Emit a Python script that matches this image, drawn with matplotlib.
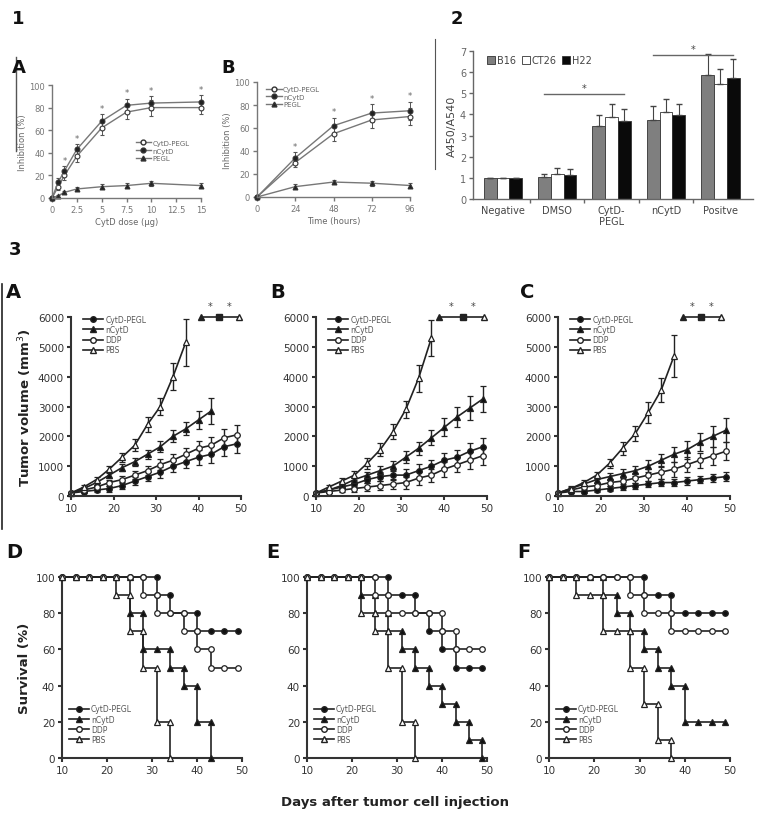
import numpy as np
import matplotlib
matplotlib.use("Agg")
import matplotlib.pyplot as plt
from matplotlib.lines import Line2D

# ---- panel 1: inhibition curves ----
DOSE = [0, 0.625, 1.25, 2.5, 5, 7.5, 10, 15]
DOSE_CYTD_PEGL = [0, 10, 20, 37, 62, 76, 80, 80]
DOSE_CYTD_PEGL_ERR = [0, 3, 4, 5, 6, 6, 7, 6]
DOSE_NCYTD = [0, 14, 24, 43, 68, 82, 84, 85]
DOSE_NCYTD_ERR = [0, 4, 4, 5, 6, 6, 6, 6]
DOSE_PEGL = [0, 2, 5, 8, 10, 11, 13, 11]
DOSE_PEGL_ERR = [0, 1, 1, 2, 2, 2, 2, 2]

HOURS = [0, 24, 48, 72, 96]
TIME_CYTD_PEGL = [0, 30, 55, 67, 70]
TIME_CYTD_PEGL_ERR = [0, 4, 6, 7, 7]
TIME_NCYTD = [0, 34, 62, 73, 75]
TIME_NCYTD_ERR = [0, 5, 7, 8, 8]
TIME_PEGL = [0, 9, 13, 12, 10]
TIME_PEGL_ERR = [0, 2, 2, 2, 2]

# ---- panel 2: bar chart ----
GROUPS = ["Negative", "DMSO", "CytD-\nPEGL", "nCytD", "Positve"]
B16 = [1, 1.05, 3.45, 3.75, 5.85]
B16_ERR = [0, 0.15, 0.5, 0.65, 1.0]
CT26 = [1, 1.2, 3.9, 4.1, 5.45]
CT26_ERR = [0, 0.25, 0.6, 0.65, 0.7]
H22 = [1, 1.15, 3.7, 3.95, 5.7]
H22_ERR = [0, 0.25, 0.55, 0.55, 0.9]

# ---- panel 3: tumour volume ----
DAYS = [10, 13, 16, 19, 22, 25, 28, 31, 34, 37, 40, 43, 46, 49]
SERIES = ["CytD-PEGL", "nCytD", "DDP", "PBS"]

VOL_A = {
    "CytD-PEGL": [100, 150, 200, 250, 350, 500, 650, 800, 1000, 1150, 1300, 1400, 1650, 1750],
    "nCytD": [100, 250, 450, 700, 950, 1150, 1400, 1650, 2000, 2250, 2550, 2850],
    "DDP": [100, 200, 300, 450, 550, 700, 850, 1050, 1200, 1400, 1600, 1700, 1950, 2050],
    "PBS": [100, 300, 550, 900, 1300, 1700, 2400, 3000, 4000, 5150],
}
ERR_A = {
    "CytD-PEGL": [50, 60, 80, 100, 120, 130, 150, 180, 200, 220, 250, 280, 300, 300],
    "nCytD": [50, 60, 80, 100, 120, 130, 150, 180, 200, 220, 300, 430],
    "DDP": [50, 60, 80, 100, 120, 130, 150, 180, 200, 220, 250, 280, 300, 320],
    "PBS": [50, 80, 100, 120, 150, 200, 250, 300, 450, 780],
}
VOL_B = {
    "CytD-PEGL": [100, 200, 300, 400, 550, 650, 700, 700, 850, 1000, 1200, 1300, 1500, 1650],
    "nCytD": [100, 200, 350, 550, 700, 850, 1000, 1300, 1600, 1950, 2300, 2650, 2950, 3250],
    "DDP": [100, 150, 200, 250, 300, 350, 400, 450, 600, 700, 900, 1050, 1200, 1350],
    "PBS": [100, 300, 500, 700, 1100, 1550, 2150, 2900, 3950, 5300],
}
ERR_B = {
    "CytD-PEGL": [50, 60, 80, 100, 120, 150, 170, 200, 220, 220, 250, 250, 280, 300],
    "nCytD": [50, 60, 80, 100, 120, 150, 170, 200, 220, 250, 300, 350, 400, 450],
    "DDP": [50, 60, 80, 100, 120, 150, 170, 200, 220, 220, 250, 250, 280, 300],
    "PBS": [50, 80, 100, 150, 180, 220, 250, 300, 450, 600],
}
VOL_C = {
    "CytD-PEGL": [100, 150, 150, 200, 250, 300, 350, 400, 450, 450, 500, 550, 600, 650],
    "nCytD": [100, 250, 400, 550, 650, 750, 850, 1000, 1200, 1400, 1550, 1800, 2000, 2200],
    "DDP": [100, 200, 300, 350, 450, 500, 600, 700, 800, 900, 1050, 1200, 1350, 1500],
    "PBS": [100, 250, 450, 700, 1100, 1600, 2100, 2800, 3550, 4700],
}
ERR_C = {
    "CytD-PEGL": [50, 50, 60, 70, 80, 90, 100, 100, 110, 120, 130, 130, 140, 150],
    "nCytD": [50, 60, 80, 100, 120, 150, 170, 200, 220, 250, 300, 300, 350, 400],
    "DDP": [50, 60, 80, 100, 120, 150, 170, 200, 220, 250, 250, 250, 300, 300],
    "PBS": [50, 80, 100, 120, 150, 220, 250, 350, 400, 700],
}

# ---- panel 3: survival (%) per day ----
SURV_D = {
    "CytD-PEGL": [100, 100, 100, 100, 100, 100, 100, 90, 80, 80, 70, 70, 70, 70],
    "nCytD": [100, 100, 100, 100, 100, 80, 60, 60, 50, 40, 20, 0],
    "DDP": [100, 100, 100, 100, 100, 100, 90, 80, 80, 70, 60, 50, 50, 50],
    "PBS": [100, 100, 100, 100, 90, 70, 50, 20, 0],
}
SURV_E = {
    "CytD-PEGL": [100, 100, 100, 100, 100, 100, 90, 90, 80, 70, 60, 50, 50, 50],
    "nCytD": [100, 100, 100, 100, 90, 80, 70, 60, 50, 40, 30, 20, 10, 0],
    "DDP": [100, 100, 100, 100, 100, 90, 80, 80, 80, 80, 70, 60, 60, 60],
    "PBS": [100, 100, 100, 100, 80, 70, 50, 20, 0],
}
SURV_F = {
    "CytD-PEGL": [100, 100, 100, 100, 100, 100, 100, 90, 90, 80, 80, 80, 80, 80],
    "nCytD": [100, 100, 100, 100, 90, 80, 70, 60, 50, 40, 20, 20, 20, 20],
    "DDP": [100, 100, 100, 100, 100, 100, 90, 80, 80, 70, 70, 70, 70, 70],
    "PBS": [100, 100, 90, 90, 70, 70, 50, 30, 10, 0],
}

MARK = {
    "CytD-PEGL": ("o", "#111111"),
    "nCytD": ("^", "#111111"),
    "DDP": ("o", "white"),
    "PBS": ("^", "white"),
}

W, H = 765, 828
fig = plt.figure(figsize=(W / 100, H / 100), dpi=100)
fig.patch.set_facecolor("white")


def add_ax(l, r, t, b):
    return fig.add_axes([l / W, 1 - b / H, (r - l) / W, (b - t) / H])


def style(ax, color, lw, size):
    for s in ("top", "right"):
        ax.spines[s].set_visible(False)
    for s in ("left", "bottom"):
        ax.spines[s].set_color(color)
        ax.spines[s].set_linewidth(lw)
    ax.tick_params(colors=color, length=3, width=lw, labelsize=size, pad=2)
    ax.set_facecolor("none")


def label(x, y, s, size=14):
    fig.text(x / W, 1 - y / H, s, fontsize=size, fontweight="bold",
             ha="center", va="center", color="#111111")


def vline(x, y0, y1, color="#444444", lw=1.0):
    fig.add_artist(Line2D([x / W, x / W], [1 - y0 / H, 1 - y1 / H],
                          color=color, lw=lw))


# ================= panel 1A =================
g1 = "#777777"
t1 = "#666666"
ax = add_ax(52, 201, 86, 199)
style(ax, g1, 1.0, 6)
curves = [
    (DOSE_CYTD_PEGL, DOSE_CYTD_PEGL_ERR, "o", "white", "CytD-PEGL"),
    (DOSE_NCYTD, DOSE_NCYTD_ERR, "o", "#222222", "nCytD"),
    (DOSE_PEGL, DOSE_PEGL_ERR, "^", "#222222", "PEGL"),
]
for y, e, m, fc, name in curves:
    ax.errorbar(DOSE, y, yerr=e, color=g1, lw=1.0, marker=m, ms=3.5,
                mfc=fc, mec="#333333", mew=0.8, ecolor="#555555",
                elinewidth=0.7, capsize=1.5, clip_on=False)
for x, y, e in zip(DOSE[2:], DOSE_NCYTD[2:], DOSE_NCYTD_ERR[2:]):
    ax.text(x, y + e + 1, "*", ha="center", va="bottom", fontsize=6, color=t1)
ax.set_xlim(0, 15)
ax.set_ylim(0, 100)
ax.set_xticks([0, 2.5, 5, 7.5, 10, 12.5, 15])
ax.set_xticklabels(["0", "2.5", "5", "7.5", "10", "12.5", "15"])
ax.set_yticks(range(0, 101, 20))
ax.set_xlabel("CytD dose (\u03bcg)", fontsize=6, color=t1, labelpad=2)
ax.set_ylabel("Inhibition (%)", fontsize=6, color=t1, labelpad=2)
h = [Line2D([], [], color=g1, lw=1, marker=m, ms=3.5, mfc=fc, mec="#333333")
     for _, _, m, fc, _ in curves]
ax.legend(h, [c[4] for c in curves], loc="center left",
          bbox_to_anchor=(0.52, 0.42), fontsize=5, frameon=False,
          handlelength=2.2, labelspacing=0.25, handletextpad=0.2,
          labelcolor=t1)

# ================= panel 1B =================
ax = add_ax(257, 410, 83, 198)
style(ax, g1, 1.0, 6)
curves = [
    (TIME_CYTD_PEGL, TIME_CYTD_PEGL_ERR, "o", "white", "CytD-PEGL"),
    (TIME_NCYTD, TIME_NCYTD_ERR, "o", "#222222", "nCytD"),
    (TIME_PEGL, TIME_PEGL_ERR, "^", "#222222", "PEGL"),
]
for y, e, m, fc, name in curves:
    ax.errorbar(HOURS, y, yerr=e, color=g1, lw=1.0, marker=m, ms=3.5,
                mfc=fc, mec="#333333", mew=0.8, ecolor="#555555",
                elinewidth=0.7, capsize=1.5, clip_on=False)
for x, y, e in zip(HOURS[1:], TIME_NCYTD[1:], TIME_NCYTD_ERR[1:]):
    ax.text(x, y + e + 1, "*", ha="center", va="bottom", fontsize=6, color=t1)
ax.set_xlim(0, 96)
ax.set_ylim(0, 100)
ax.set_xticks(HOURS)
ax.set_yticks(range(0, 101, 20))
ax.set_xlabel("Time (hours)", fontsize=6, color=t1, labelpad=2)
ax.set_ylabel("Inhibition (%)", fontsize=6, color=t1, labelpad=2)
h = [Line2D([], [], color=g1, lw=1, marker=m, ms=3.5, mfc=fc, mec="#333333")
     for _, _, m, fc, _ in curves]
ax.legend(h, [c[4] for c in curves], loc="upper left",
          bbox_to_anchor=(0.02, 1.02), fontsize=5, frameon=False,
          handlelength=2.2, labelspacing=0.25, handletextpad=0.2,
          labelcolor=t1)

label(19, 68, "A", 13)
label(228, 68, "B", 13)
label(18, 19, "1", 13)
vline(16, 58, 152, "#555555", 1.0)

# ================= panel 2 =================
ax = add_ax(473, 753, 52, 200)
style(ax, "#666666", 1.0, 7)
x = np.arange(len(GROUPS))
bw = 0.235
bars = [(B16, B16_ERR, "#7f7f7f", "B16"), (CT26, CT26_ERR, "white", "CT26"),
        (H22, H22_ERR, "#0a0a0a", "H22")]
for k, (v, e, c, name) in enumerate(bars):
    ax.bar(x + (k - 1) * bw, v, bw, color=c, edgecolor="#333333", lw=0.6,
           label=name)
    ax.errorbar(x + (k - 1) * bw, v, yerr=[np.zeros(len(e)), e], fmt="none",
                ecolor="#444444", elinewidth=0.8, capsize=2.5)
ax.plot([1 - bw, 2 + bw], [4.95, 4.95], color="#666666", lw=1)
ax.text(1.5, 5.0, "*", ha="center", va="bottom", fontsize=7, color="#444444")
ax.plot([3 - bw, 4 + bw], [6.8, 6.8], color="#666666", lw=1, clip_on=False)
ax.text(3.5, 6.85, "*", ha="center", va="bottom", fontsize=7, color="#444444")
ax.set_xlim(-0.55, 4.6)
ax.set_ylim(0, 7)
ax.set_yticks(range(8))
ax.set_xticks(x)
ax.set_xticklabels(GROUPS, color="#444444")
ax.tick_params(axis="x", length=0, pad=4)
ax.set_xticks(x[:-1] + 0.5, minor=True)
ax.tick_params(axis="x", which="minor", length=3, width=1, color="#666666")
ax.set_ylabel("A450/A540", fontsize=8, color="#444444", labelpad=2)
ax.legend(loc="upper left", bbox_to_anchor=(0.02, 1.03), ncol=3, fontsize=7,
          frameon=False, handlelength=0.8, handleheight=0.8,
          handletextpad=0.2, columnspacing=0.6, labelcolor="#444444")
label(457, 19, "2", 13)
vline(435, 40, 170, "#555555", 0.8)

# ================= panel 3: tumour volume =================
label(15, 250, "3", 13)
vline(2, 285, 530, "#222222", 1.2)
lc = "#222222"
vol_boxes = [(VOL_A, ERR_A, (71, 241), "A", 13, (40.5, 44.8, 49.6)),
             (VOL_B, ERR_B, (316, 487), "B", 278, (38.8, 44.3, 49.3)),
             (VOL_C, ERR_C, (558, 730), "C", 527, (39.0, 43.3, 48.0))]
for vol, err, (l, r), letter, lx, sig in vol_boxes:
    ax = add_ax(l, r, 318, 497)
    style(ax, "#333333", 1.5, 7.5)
    for name in SERIES:
        m, fc = MARK[name]
        n = len(vol[name])
        ax.errorbar(DAYS[:n], vol[name], yerr=err[name], color=lc, lw=1.2,
                    marker=m, ms=4, mfc=fc, mec=lc, mew=0.9, ecolor=lc,
                    elinewidth=1.0, capsize=2.5, capthick=1.0, clip_on=False)
    # significance key at the top
    ax.plot(sig, [6000] * 3, color=lc, lw=1.2, clip_on=False)
    ax.plot(sig[0], 6000, "^", ms=5, color=lc, clip_on=False)
    ax.plot(sig[1], 6000, "s", ms=5, color=lc, clip_on=False)
    ax.plot(sig[2], 6000, "^", ms=5, mfc="white", mec=lc, clip_on=False)
    for sx in ((sig[0] + sig[1]) / 2, (sig[1] + sig[2]) / 2):
        ax.text(sx, 6200, "*", ha="center", va="bottom", fontsize=7, color="#444444")
    ax.set_xlim(10, 50)
    ax.set_ylim(0, 6000)
    ax.set_xticks(range(10, 51, 10))
    ax.set_yticks(range(0, 6001, 1000))
    h = [Line2D([], [], color=lc, lw=1.2, marker=MARK[s][0], ms=4,
                mfc=MARK[s][1], mec=lc) for s in SERIES]
    ax.legend(h, SERIES, loc="upper left", bbox_to_anchor=(0.03, 1.05),
              fontsize=5.5, frameon=False, handlelength=2.6,
              labelspacing=0.15, handletextpad=0.3, labelcolor="#555555")
    label(lx, 292, letter, 14)
    if letter == "A":
        ax.set_ylabel("Tumor volume (mm$^3$)", fontsize=9.5, fontweight="bold",
                      color="#222222", labelpad=3)

# ================= panel 3: survival =================
surv_boxes = [(SURV_D, (62, 242), "D", 14), (SURV_E, (307, 487), "E", 273),
              (SURV_F, (549, 730), "F", 524)]
for surv, (l, r), letter, lx in surv_boxes:
    ax = add_ax(l, r, 578, 759)
    style(ax, "#333333", 1.5, 7.5)
    for name in SERIES:
        m, fc = MARK[name]
        v = surv[name]
        d = DAYS[:len(v)]
        ax.plot(d, v, drawstyle="steps-post", color=lc, lw=1.2, clip_on=False)
        mx, my = list(d), list(v)
        for i in range(1, len(v)):
            if v[i] != v[i - 1]:
                mx.append(d[i])
                my.append(v[i - 1])
        ax.plot(mx, my, ls="none", marker=m, ms=4, mfc=fc, mec=lc, mew=0.9,
                clip_on=False, zorder=3)
    ax.set_xlim(10, 50)
    ax.set_ylim(0, 100)
    ax.set_xticks(range(10, 51, 10))
    ax.set_yticks(range(0, 101, 20))
    h = [Line2D([], [], color=lc, lw=1.2, marker=MARK[s][0], ms=4,
                mfc=MARK[s][1], mec=lc) for s in SERIES]
    ax.legend(h, SERIES, loc="lower left", bbox_to_anchor=(0.0, 0.04),
              fontsize=5.5, frameon=False, handlelength=2.6,
              labelspacing=0.15, handletextpad=0.3, labelcolor="#555555")
    label(lx, 553, letter, 14)
    if letter == "D":
        ax.set_ylabel("Survival (%)", fontsize=9.5, fontweight="bold",
                      color="#222222", labelpad=3)

fig.text(395 / W, 1 - 803 / H, "Days after tumor cell injection", fontsize=9.5,
         fontweight="bold", ha="center", va="center", color="#222222")

fig.savefig("out.png", dpi=100)
